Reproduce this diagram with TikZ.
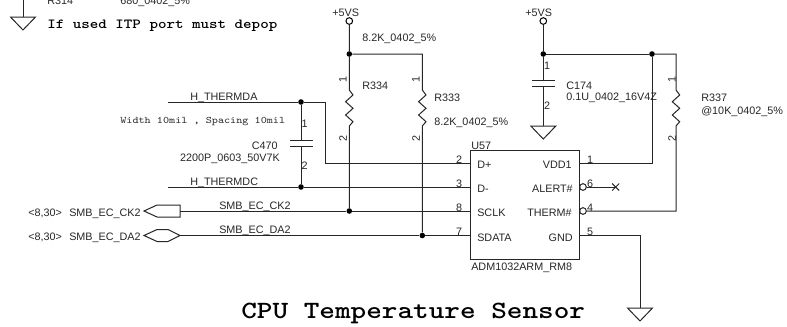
\documentclass[tikz,border=0pt]{standalone}
\usepackage{fontspec}
\setmainfont{Liberation Sans}
\newcommand{\gndsym}[1]{\draw[wire] (#1) ++(-12.5,0) -- ++(25,0) -- ++(-12.5,13) -- cycle;}
\newcommand{\zigpath}{-- ++(3.7,5) -- ++(-7.4,6.7) -- ++(7.4,6.6) -- ++(-7.4,6.7) -- ++(7.4,6.7) -- ++(-3.7,4.3)}
\tikzset{
  wire/.style={line width=0.75pt,black!85},
  lab/.style={anchor=base west,inner sep=0pt,font=\fontsize{8.1pt}{9pt}\selectfont,text=black!85},
  labr/.style={anchor=base east,inner sep=0pt,font=\fontsize{8.1pt}{9pt}\selectfont,text=black!85},
  pinnum/.style={anchor=base,inner sep=0pt,font=\fontsize{8.1pt}{9pt}\selectfont,text=black!85},
  rotnum/.style={anchor=center,inner sep=0pt,rotate=90,font=\fontsize{8.1pt}{9pt}\selectfont,text=black!85},
  dot/.style={circle,fill=black,inner sep=0pt,minimum size=4.2pt},
  pwr/.style={circle,draw,line width=0.75pt,fill=white,inner sep=0pt,minimum size=5pt},
  inv/.style={circle,draw,line width=0.75pt,black!85,inner sep=0pt,minimum size=5pt},
  plate/.style={line width=0.75pt,black!85},
  chip/.style={draw,line width=0.9pt,black!85,rectangle,inner sep=0pt,minimum width=81.75pt,minimum height=81.75pt},
  boldmono/.style={anchor=base west,inner sep=0pt,xscale=#1},
}
\begin{document}
\begin{tikzpicture}[x=0.75pt,y=-0.75pt]
\useasboundingbox (0,0) rectangle (787,326);
\clip (0,0) rectangle (787,326);
% top-left fragment
\coordinate (g0t) at (23,-2); \coordinate (g0) at (23,17);
\draw[wire] (g0t) -- (g0); \gndsym{g0}
\node[lab] (r314) at (47,4) {R314};
\node[lab] (r314v) at (120,4) {680\_0402\_5\%};
\node[boldmono=1.17,font=\ttfamily\bfseries\fontsize{10.4pt}{11pt}\selectfont] (note) at (47,28.5) {If used ITP port must depop};
% chip
\node[chip] (u57) at (524.8,205) {};
\node[lab,anchor=base west] (u57ref) at (471,149) {U57};
\node[lab] (u57val) at (471,270) {ADM1032ARM\_RM8};
\coordinate (pDp) at (470.3,163); \coordinate (pDm) at (470.3,187);
\coordinate (pCK) at (470.3,211); \coordinate (pDA) at (470.3,235.5);
\coordinate (pVD) at (579.3,163); \coordinate (pGN) at (579.3,235.5);
\node[inv] (iAL) at (583,187) {}; \node[inv] (iTH) at (583,211) {};
\node[lab] at (477,168) {D+}; \node[lab] at (477,192) {D-};
\node[lab] at (477,216) {SCLK}; \node[lab] at (477,241) {SDATA};
\node[labr] at (572,168) {VDD1}; \node[labr] at (573,192) {ALERT\#};
\node[labr] at (572,216) {THERM\#}; \node[labr] at (573,241) {GND};
\node[pinnum] at (459,163) {2}; \node[pinnum] at (459,187) {3};
\node[pinnum] at (459,211) {8}; \node[pinnum] at (459,235) {7};
\node[pinnum] at (590,163) {1}; \node[pinnum] at (590,187) {6};
\node[pinnum] at (590,211) {4}; \node[pinnum] at (590,235) {5};
% no-connect
\coordinate (nc) at (615.7,187);
\draw[wire] (iAL) -- (nc);
\draw[wire] (nc) ++(-3.5,-3.5) -- ++(7,7) ++(-7,0) -- ++(7,-7);
% H_THERMDA / H_THERMDC
\coordinate (tA) at (168,102); \coordinate (tAc) at (325,102); \coordinate (tAd) at (325,163);
\coordinate (tC) at (168,187);
\node[dot] (dA) at (301,102) {}; \node[dot] (dC) at (301,187) {};
\draw[wire] (tA) -- (dA) -- (tAc) -- (tAd) -- (pDp);
\draw[wire] (tC) -- (dC) -- (pDm);
\node[lab] at (190,100) {H\_THERMDA};
\node[lab] at (190,185) {H\_THERMDC};
\node[boldmono=1.15,font=\ttfamily\fontsize{7.5pt}{8pt}\selectfont,text=black!80] at (120,123) {Width 10mil , Spacing 10mil};
% C470
\coordinate (c1a) at (301,140.7); \coordinate (c1b) at (301,146.7);
\draw[wire] (dA) -- (c1a); \draw[wire] (c1b) -- (dC);
\draw[plate] (290,140.7) -- (313,140.7); \draw[plate] (290,146.7) -- (313,146.7);
\node[pinnum] at (304.5,127) {1}; \node[pinnum] at (304.5,169) {2};
\node[labr] at (278,149) {C470};
\node[labr] at (280,161) {2200P\_0603\_50V7K};
% SMB ports
\node[dot] (dCK) at (349.3,211) {}; \node[dot] (dDA) at (422.3,235.5) {};
\coordinate (ckR) at (180,211); \coordinate (daR) at (180,235.5);
\draw[wire] (ckR) ++(0,-6) -- ++(-23,0) -- (144,211) -- (157,217) -- (180,217) -- cycle;
\draw[wire] (daR) -- (168,229.5) -- (157,229.5) -- (144,235.5) -- (157,241.5) -- (168,241.5) -- cycle;
\draw[wire] (ckR) -- (dCK) -- (pCK);
\draw[wire] (daR) -- (dDA) -- (pDA);
\node[lab] at (219,209) {SMB\_EC\_CK2};
\node[lab] at (219,233) {SMB\_EC\_DA2};
\node[lab] at (28,216) {<8,30>}; \node[lab] at (69,216) {SMB\_EC\_CK2};
\node[lab] at (28,240) {<8,30>}; \node[lab] at (69,240) {SMB\_EC\_DA2};
% left +5VS, R334, R333
\node[pwr] (vs1) at (349.3,21) {};
\node[dot] (d1) at (349.3,54) {};
\coordinate (r334a) at (349.3,90); \coordinate (r334b) at (349.3,126);
\coordinate (r333c) at (422.3,54); \coordinate (r333a) at (422.3,90); \coordinate (r333b) at (422.3,126);
\draw[wire] (vs1) -- (d1) -- (r334a) \zigpath -- (dCK);
\draw[wire] (d1) -- (r333c) -- (r333a) \zigpath -- (dDA);
\node[lab] at (332,16) {+5VS};
\node[lab] at (362,41) {8.2K\_0402\_5\%};
\node[lab] at (362,89) {R334};
\node[lab] at (434,101) {R333};
\node[lab] at (434,125) {8.2K\_0402\_5\%};
\node[rotnum] at (343,79) {1}; \node[rotnum] at (343,138) {2};
\node[rotnum] at (416,79) {1}; \node[rotnum] at (416,138) {2};
% right +5VS, C174, R337
\node[pwr] (vs2) at (543.3,21) {};
\node[dot] (d2) at (543.3,54) {};
\node[dot] (d3) at (652,54) {};
\coordinate (c2a) at (543.3,80); \coordinate (c2b) at (543.3,86); \coordinate (g2) at (543.3,126);
\draw[wire] (vs2) -- (d2) -- (c2a); \draw[wire] (c2b) -- (g2); \gndsym{g2}
\draw[plate] (532,80) -- (555,80); \draw[plate] (532,86) -- (555,86);
\node[pinnum] at (547,69) {1}; \node[pinnum] at (547,109) {2};
\node[lab] at (525,16) {+5VS};
\node[lab] at (566,89) {C174};
\node[lab] at (566,100) {0.1U\_0402\_16V4Z};
\coordinate (vc) at (652,163);
\draw[wire] (d2) -- (d3) -- (vc) -- (pVD);
\coordinate (r337c) at (676,54); \coordinate (r337a) at (676,90); \coordinate (r337d) at (676,211);
\draw[wire] (d3) -- (r337c) -- (r337a) \zigpath -- (r337d) -- (iTH);
\node[rotnum] at (672,79) {1}; \node[rotnum] at (672,138) {2};
\node[lab] at (701,101) {R337};
\node[lab] at (701,114) {@10K\_0402\_5\%};
% GND of U57
\coordinate (gc) at (640,235.5); \coordinate (g3) at (640,308);
\draw[wire] (pGN) -- (gc) -- (g3); \gndsym{g3}
% title
\node[boldmono=1.2,font=\ttfamily\bfseries\fontsize{18.6pt}{20pt}\selectfont] (title) at (241,318) {CPU Temperature Sensor};
\end{tikzpicture}
\end{document}
